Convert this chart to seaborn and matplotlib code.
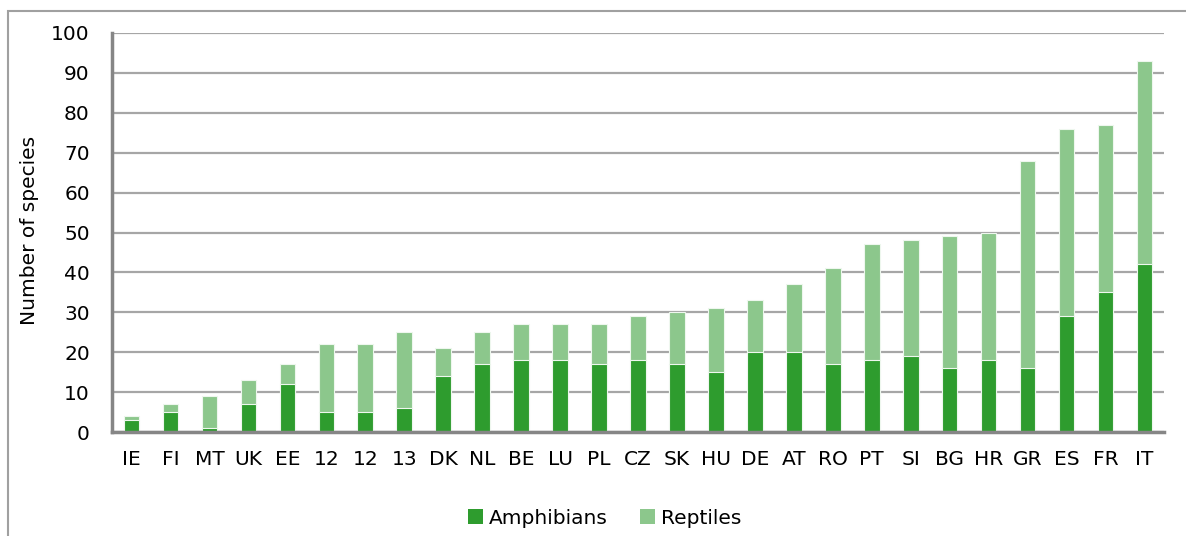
import matplotlib
matplotlib.use("Agg")
import matplotlib.pyplot as plt
import seaborn as sns
import pandas as pd
from matplotlib.patches import Rectangle, Patch

countries = ["IE", "FI", "MT", "UK", "EE", "12", "12", "13", "DK", "NL", "BE", "LU", "PL",
             "CZ", "SK", "HU", "DE", "AT", "RO", "PT", "SI", "BG", "HR", "GR", "ES", "FR", "IT"]
amphibians = [3, 5, 1, 7, 12, 5, 5, 6, 14, 17, 18, 18, 17, 18, 17, 15, 20, 20, 17, 18, 19, 16, 18, 16, 29, 35, 42]
reptiles = [1, 2, 8, 6, 5, 17, 17, 19, 7, 8, 9, 9, 10, 11, 13, 16, 13, 17, 24, 29, 29, 33, 32, 52, 47, 42, 51]

dark = "#2e9c2e"
light = "#8cc78c"

df = pd.DataFrame({
    "key": [str(i) for i in range(len(countries))],
    "label": countries,
    "Amphibians": amphibians,
    "Reptiles": reptiles,
})
df["Total"] = df["Amphibians"] + df["Reptiles"]

sns.set_theme(style="white")
plt.rcParams["font.family"] = ["DejaVu Sans"]
plt.rcParams["text.color"] = "black"

FS = 14.5

fig = plt.figure(figsize=(11.86, 5.36), dpi=100)
ax = fig.add_axes([112 / 1186, 1 - 432 / 536, (1164 - 112) / 1186, (432 - 33) / 536])

order = list(df["key"])
sns.barplot(data=df, x="key", y="Total", order=order, color=light, width=0.4,
            edgecolor="#eef7ee", linewidth=0.8, ax=ax, saturation=1)
sns.barplot(data=df, x="key", y="Amphibians", order=order, color=dark, width=0.4,
            edgecolor="#eef7ee", linewidth=0.8, ax=ax, saturation=1)

ax.set_ylim(0, 100)
ax.set_xlim(-0.5, len(countries) - 0.5)
ax.set_yticks(range(0, 101, 10))
ax.set_xticks(range(len(countries)))
ax.set_xticklabels(countries)
ax.tick_params(axis="both", labelsize=FS, colors="black", length=0)
ax.tick_params(axis="y", pad=16)
ax.tick_params(axis="x", pad=13)
ax.set_xlabel("")
ax.set_ylabel("Number of species", fontsize=FS, color="black")
ax.yaxis.set_label_coords((39 - 112) / 1052, (432 - 230) / 399)

ax.yaxis.grid(True, color="#a6a6a6", linewidth=1.6)
ax.set_axisbelow(True)
for s in ["top", "right"]:
    ax.spines[s].set_visible(False)
for s in ["left", "bottom"]:
    ax.spines[s].set_color("#868686")
    ax.spines[s].set_linewidth(2.5)
    ax.spines[s].set_zorder(5)

handles = [Patch(facecolor=dark, edgecolor="none", label="Amphibians"),
           Patch(facecolor=light, edgecolor="none", label="Reptiles")]
leg = fig.legend(handles=handles, loc="center", bbox_to_anchor=(0.51, 1 - 518 / 536), ncol=2,
                 frameon=False, fontsize=FS, handlelength=0.75, handleheight=0.75,
                 handletextpad=0.3, columnspacing=1.6)
for t in leg.get_texts():
    t.set_color("black")

fig.patches.append(Rectangle((8 / 1186, -0.1), 1.2, 1.1 - 11 / 536, transform=fig.transFigure,
                             fill=False, edgecolor="#a0a0a0", linewidth=1.5, zorder=0))

fig.savefig("out.png", dpi=100)
